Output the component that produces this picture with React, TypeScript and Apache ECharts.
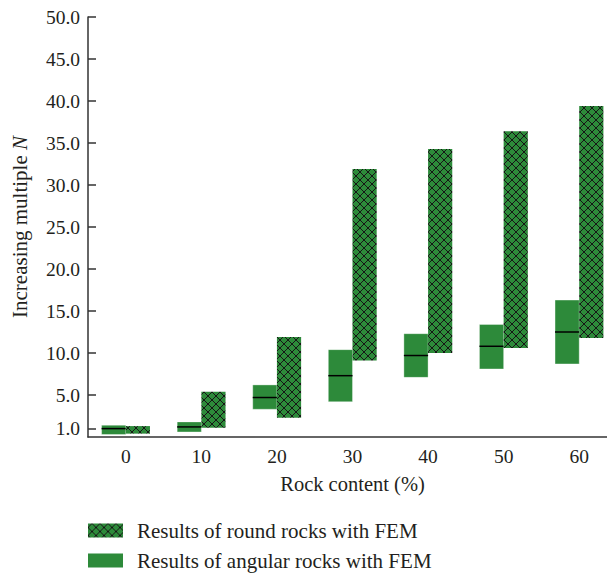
import React, { useEffect, useRef } from "react";
import * as echarts from "echarts";

const categories = ["0", "10", "20", "30", "40", "50", "60"];
const angularLow = [0.3, 0.6, 3.3, 4.2, 7.1, 8.1, 8.7];
const angularHigh = [1.4, 1.8, 6.2, 10.4, 12.3, 13.4, 16.3];
const angularMedian = [1.0, 1.2, 4.7, 7.3, 9.7, 10.8, 12.5];
const roundLow = [0.4, 1.1, 2.3, 9.1, 10.0, 10.6, 11.8];
const roundHigh = [1.3, 5.4, 11.9, 31.9, 34.3, 36.4, 39.4];
const yTickValues = [1, 5, 10, 15, 20, 25, 30, 35, 40, 45, 50];

const ROUND_NAME = "Results of round rocks with FEM";
const ANGULAR_NAME = "Results of angular rocks with FEM";
const GREEN = "#2d8a3a";
const TEXT = "#231f20";
const FONT = "Liberation Serif";

const TILE = [
  "...##...",
  "..#..#..",
  ".#....#.",
  "#......#",
  "#......#",
  ".#....#.",
  "..#..#..",
  "...##...",
];

function makePattern() {
  const s = TILE.length;
  const c = document.createElement("canvas");
  c.width = s;
  c.height = s;
  const ctx = c.getContext("2d")!;
  ctx.fillStyle = GREEN;
  ctx.fillRect(0, 0, s, s);
  ctx.fillStyle = "#161616";
  TILE.forEach((row, y) => {
    for (let x = 0; x < row.length; x++) if (row[x] === "#") ctx.fillRect(x, y, 1, 1);
  });
  return {
    image: c.toDataURL(),
    repeat: "repeat",
    imageWidth: s,
    imageHeight: s,
  };
}

export default function App() {
  const ref = useRef<HTMLDivElement>(null);
  useEffect(() => {
    if (!ref.current) return;
    document.body.style.margin = "0";
    document.body.style.overflow = "hidden";
    const chart = echarts.init(ref.current, undefined, { renderer: "svg" });
    const pattern: any = makePattern();

    const angularData = categories.map((_, i) => [i, angularLow[i], angularHigh[i], angularMedian[i]]);
    const roundData = categories.map((_, i) => [i, roundLow[i], roundHigh[i]]);

    const legendCommon = {
      orient: "vertical",
      left: 88,
      padding: 0,
      itemWidth: 35,
      itemHeight: 14,
      textStyle: { fontFamily: FONT, fontSize: 21, color: TEXT, padding: [0, 0, 0, 9] },
    };

    const option: any = {
      animation: false,
      textStyle: { fontFamily: FONT, color: TEXT },
      grid: { left: 88, right: 0, top: 17, bottom: 136, containLabel: false },
      xAxis: {
        type: "category",
        data: categories,
        boundaryGap: true,
        name: "Rock content (%)",
        nameLocation: "middle",
        nameGap: 36,
        nameTextStyle: { fontFamily: FONT, fontSize: 20.5, color: TEXT },
        axisLine: { lineStyle: { color: "#333", width: 1.5 } },
        axisTick: { inside: true, length: 9, alignWithLabel: true, lineStyle: { color: "#333", width: 1.5 } },
        axisLabel: { fontFamily: FONT, fontSize: 19.5, color: TEXT, margin: 9 },
        splitLine: { show: false },
      },
      yAxis: {
        type: "value",
        min: 0,
        max: 50,
        interval: 5,
        name: "Increasing multiple {i|N}",
        nameLocation: "middle",
        nameGap: 58,
        nameTextStyle: {
          fontFamily: FONT,
          fontSize: 21,
          color: TEXT,
          rich: { i: { fontFamily: FONT, fontSize: 21, fontStyle: "italic", color: TEXT } },
        },
        axisLine: { show: true, lineStyle: { color: "#333", width: 1.5 } },
        axisTick: { show: true, inside: true, length: 8, customValues: yTickValues, lineStyle: { color: "#333", width: 1.5 } },
        axisLabel: {
          fontFamily: FONT,
          fontSize: 19.5,
          color: TEXT,
          margin: 8,
          customValues: yTickValues,
          formatter: (v: number) => v.toFixed(1),
        },
        splitLine: { show: false },
      },
      legend: [
        {
          ...legendCommon,
          top: 520,
          data: [{ name: ROUND_NAME, icon: "rect", itemStyle: { color: pattern } }],
        },
        {
          ...legendCommon,
          top: 550,
          data: [{ name: ANGULAR_NAME, icon: "rect", itemStyle: { color: GREEN } }],
        },
      ],
      series: [
        {
          name: ANGULAR_NAME,
          type: "custom",
          itemStyle: { color: GREEN },
          encode: { x: 0, y: [1, 2, 3] },
          data: angularData,
          renderItem: (params: any, api: any) => {
            const idx = api.value(0);
            const top = api.coord([idx, api.value(2)]);
            const bot = api.coord([idx, api.value(1)]);
            const med = api.coord([idx, api.value(3)]);
            const w = api.size([1, 0])[0] * 0.32;
            return {
              type: "group",
              children: [
                {
                  type: "rect",
                  shape: { x: top[0] - w, y: top[1], width: w, height: bot[1] - top[1] },
                  style: { fill: GREEN, stroke: "rgba(255,255,255,0.35)", lineWidth: 1 },
                },
                {
                  type: "line",
                  shape: { x1: top[0] - w, y1: med[1], x2: top[0], y2: med[1] },
                  style: { stroke: "#000", lineWidth: 1.5 },
                },
              ],
            };
          },
        },
        {
          name: ROUND_NAME,
          type: "custom",
          itemStyle: { color: pattern },
          encode: { x: 0, y: [1, 2] },
          data: roundData,
          z: 3,
          renderItem: (params: any, api: any) => {
            const idx = api.value(0);
            const top = api.coord([idx, api.value(2)]);
            const bot = api.coord([idx, api.value(1)]);
            const w = api.size([1, 0])[0] * 0.32;
            return {
              type: "rect",
              shape: { x: top[0], y: top[1], width: w, height: bot[1] - top[1] },
              style: { fill: pattern },
            };
          },
        },
      ],
    };
    chart.setOption(option);
    return () => chart.dispose();
  }, []);
  return (
    <div
      ref={ref}
      style={{ position: "fixed", left: 0, top: 0, width: 617, height: 573, background: "#fff" }}
    />
  );
}
